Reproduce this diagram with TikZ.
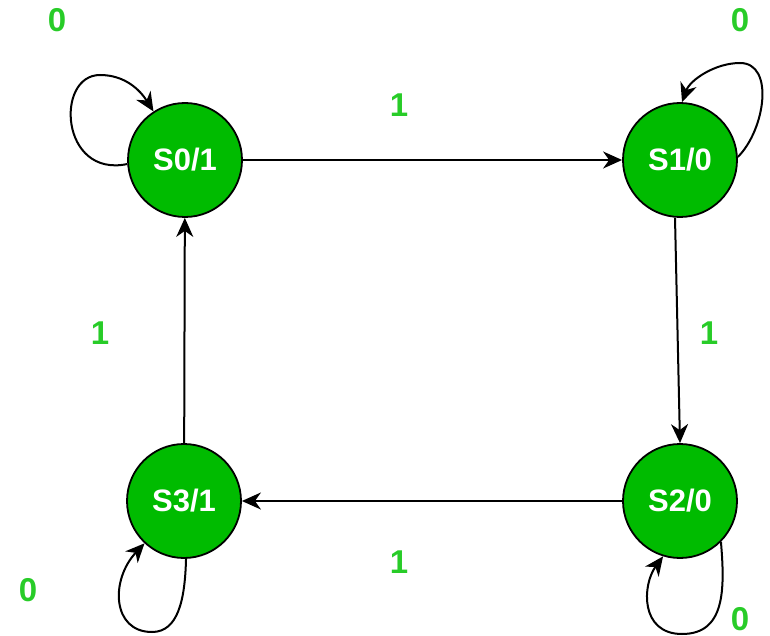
\documentclass[tikz,border=0pt]{standalone}
\usepackage{fontspec}
\setmainfont{Liberation Sans}
\usetikzlibrary{arrows.meta}
\definecolor{statefill}{RGB}{0,187,0}
\definecolor{labelgreen}{RGB}{40,204,40}
\begin{document}
\begin{tikzpicture}[x=1pt,y=-1pt,
  state/.style={circle,draw=black,line width=1.8pt,fill=statefill,
    minimum size=114pt,inner sep=0pt,text=white,
    font=\fontsize{31}{33}\selectfont\bfseries},
  edgelabel/.style={text=labelgreen,font=\fontsize{33}{35}\selectfont\bfseries},
  trans/.style={line width=2pt,-{Stealth[length=19pt,width=17pt,inset=6pt]}}]
\useasboundingbox (0,0) rectangle (770,636);

% states
\node[state] (S0) at (185,160) {S0/1};
\node[state] (S1) at (680,160) {S1/0};
\node[state] (S2) at (680,501) {S2/0};
\node[state] (S3) at (184,501) {S3/1};

% transitions on input 1
\draw[trans] (S0) -- (S1);
\draw[trans] ([xshift=-5pt]S1.south) -- (S2.north);
\draw[trans] (S2) -- (S3);
\draw[trans] (S3) -- (S0);

% self loops on input 0
\draw[trans] (S0.184) .. controls (60,178) and (55,75) .. (100,75)
  .. controls (125,75) and (140,90) .. (S0.123);
\draw[trans] (S1.3) .. controls (765,130) and (775,63) .. (740,63)
  .. controls (715,63) and (690,80) .. (S1.88);
\draw[trans] (S3.272) .. controls (185,600) and (178,632) .. (152,632)
  .. controls (112,632) and (110,580) .. (S3.227);
\draw[trans] (S2.315) .. controls (725,590) and (725,634) .. (682,634)
  .. controls (640,634) and (642,585) .. (S2.253);

% input labels
\node[edgelabel] (l0a) at (57,20) {0};
\node[edgelabel] (l0b) at (740,20) {0};
\node[edgelabel] (l0c) at (28,590) {0};
\node[edgelabel] (l0d) at (740,619) {0};
\node[edgelabel] (l1a) at (399,105) {1};
\node[edgelabel] (l1b) at (100,333) {1};
\node[edgelabel] (l1c) at (709,333) {1};
\node[edgelabel] (l1d) at (399,562) {1};
\end{tikzpicture}
\end{document}
